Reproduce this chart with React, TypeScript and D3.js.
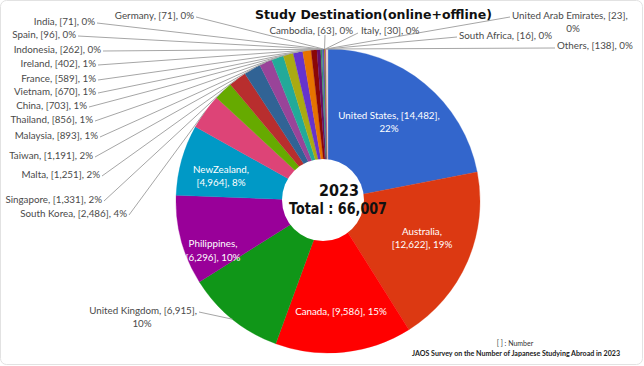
import React from 'react';
import * as d3 from 'd3';

// Data
const countries = [
  'United States', 'Australia', 'Canada', 'United Kingdom', 'Philippines', 'NewZealand',
  'South Korea', 'Singapore', 'Malta', 'Taiwan', 'Malaysia', 'Thailand', 'China', 'Vietnam',
  'France', 'Ireland', 'Indonesia', 'Spain', 'India', 'Germany', 'Cambodia', 'Italy',
  'United Arab Emirates', 'South Africa', 'Others',
];
const students = [
  14482, 12622, 9586, 6915, 6296, 4964,
  2486, 1331, 1251, 1191, 893, 856, 703, 670,
  589, 402, 262, 96, 71, 71, 63, 30,
  23, 16, 138,
];
const sliceColors = [
  '#3366cc', '#dc3912', '#ff0000', '#109618', '#990099', '#0099c6',
  '#dd4477', '#66aa00', '#b82e2e', '#316395', '#994499', '#22aa99', '#aaaa11', '#6633cc',
  '#e67300', '#8b0707', '#651067', '#329262', '#5574a6', '#3b3eac', '#b77322', '#16d620',
  '#b91383', '#f4359e', '#e0d6c8',
];
const year = '2023';
const titleText = 'Study Destination(online+offline)';

const width = 644;
const height = 366;
const cx = 328;
const cy = 201;
const radius = 152;

// label layout: inside labels (centered), outside labels with leader lines
// split 'pct': "name, [n]," / "x%"   split 'name': "name," / "[n], x%"
type Lay = { x: number; y: number[]; anchor: 'start' | 'middle' | 'end'; lx?: number; ly?: number; inside?: boolean; split?: 'pct' | 'name'; x2?: number };
const layout: Record<string, Lay> = {
  'United States': { x: 389, y: [115, 128], anchor: 'middle', inside: true, split: 'pct' },
  'Australia': { x: 422, y: [231, 244], anchor: 'middle', inside: true, split: 'name' },
  'Canada': { x: 341, y: [311], anchor: 'middle', inside: true },
  'Philippines': { x: 213, y: [243, 257], anchor: 'middle', inside: true, split: 'name' },
  'NewZealand': { x: 221, y: [169, 182], anchor: 'middle', inside: true, split: 'name' },
  'United Kingdom': { x: 197, y: [310, 323], anchor: 'end', lx: 199, ly: 312, split: 'pct', x2: 142 },
  'South Korea': { x: 127, y: [213], anchor: 'end', lx: 129, ly: 215 },
  'Singapore': { x: 102, y: [199], anchor: 'end', lx: 104, ly: 201 },
  'Malta': { x: 100, y: [174], anchor: 'end', lx: 102, ly: 176 },
  'Taiwan': { x: 93, y: [155], anchor: 'end', lx: 95, ly: 157 },
  'Malaysia': { x: 98, y: [135], anchor: 'end', lx: 100, ly: 137 },
  'Thailand': { x: 93, y: [119], anchor: 'end', lx: 95, ly: 121 },
  'China': { x: 87, y: [105], anchor: 'end', lx: 89, ly: 107 },
  'Vietnam': { x: 96, y: [91], anchor: 'end', lx: 98, ly: 93 },
  'France': { x: 96, y: [78], anchor: 'end', lx: 98, ly: 80 },
  'Ireland': { x: 96, y: [63], anchor: 'end', lx: 98, ly: 65 },
  'Indonesia': { x: 101, y: [49], anchor: 'end', lx: 103, ly: 51 },
  'Spain': { x: 76, y: [34], anchor: 'end', lx: 78, ly: 36 },
  'India': { x: 95, y: [21], anchor: 'end', lx: 97, ly: 23 },
  'Germany': { x: 194, y: [15], anchor: 'end', lx: 196, ly: 17 },
  'Cambodia': { x: 353, y: [30], anchor: 'end', lx: 325, ly: 35 },
  'Italy': { x: 361, y: [30], anchor: 'start', lx: 358, ly: 33 },
  'United Arab Emirates': { x: 512, y: [15, 28], anchor: 'start', lx: 510, ly: 17, split: 'pct', x2: 573 },
  'South Africa': { x: 459, y: [35], anchor: 'start', lx: 457, ly: 37 },
  'Others': { x: 557, y: [45], anchor: 'start', lx: 555, ly: 48 },
};

const labelFont = 'Lato, "Open Sans", sans-serif';
const labelSize = 9.8;

export default function App() {
  const total = d3.sum(students);
  const rows = countries.map((name, i) => ({ name, value: students[i], color: sliceColors[i] }));
  const pie = d3.pie<typeof rows[number]>().sort(null).value(d => d.value);
  const arcs = pie(rows);
  const arc = d3.arc<d3.PieArcDatum<typeof rows[number]>>().innerRadius(0).outerRadius(radius);
  const fmt = d3.format(',');

  return (
    <svg width={width} height={height} style={{ position: 'absolute', left: 0, top: 0, background: '#fff' }}>
      <rect x={0.5} y={0.5} width={width - 2} height={height - 2} rx={6} fill="#fff" stroke="#e2e2e2" />
      <g transform={`translate(${cx},${cy})`}>
        {arcs.map(a => (
          <path key={a.data.name} d={arc(a) || ''} fill={a.data.color} stroke={a.data.color} strokeWidth={0.3} />
        ))}
      </g>
      {/* leader lines */}
      {arcs.map(a => {
        const l = layout[a.data.name];
        if (!l || l.inside) return null;
        const mid = (a.startAngle + a.endAngle) / 2;
        const px = cx + Math.sin(mid) * radius;
        const py = cy - Math.cos(mid) * radius;
        return <line key={'l' + a.data.name} x1={l.lx} y1={l.ly} x2={px} y2={py} stroke="#a6a6a6" strokeWidth={1} />;
      })}
      {/* labels */}
      {arcs.map(a => {
        const l = layout[a.data.name];
        if (!l) return null;
        const pct = Math.round((a.data.value / total) * 100) + '%';
        const num = `[${fmt(a.data.value)}]`;
        const fill = l.inside ? '#fff' : '#4a4a4a';
        if (l.split) {
          const lines = l.split === 'pct'
            ? [`${a.data.name}, ${num},`, pct]
            : [`${a.data.name},`, `${num}, ${pct}`];
          return (
            <g key={'t' + a.data.name} fontFamily={labelFont} fontSize={labelSize} fill={fill}>
              <text x={l.x} y={l.y[0] + 4} textAnchor={l.anchor}>{lines[0]}</text>
              <text x={l.x2 ?? l.x} y={l.y[1] + 4} textAnchor="middle">{lines[1]}</text>
            </g>
          );
        }
        return (
          <text key={'t' + a.data.name} x={l.x} y={l.y[0] + 4} textAnchor={l.anchor}
            fontFamily={labelFont} fontSize={labelSize} fill={fill}>{`${a.data.name}, ${num}, ${pct}`}</text>
        );
      })}
      {/* center hole */}
      <circle cx={323} cy={200} r={41} fill="#fff" />
      <text x={339} y={196} textAnchor="middle" fontFamily='"DejaVu Sans", sans-serif' fontWeight="bold"
        fontSize={15} fill="#111" textLength={40} lengthAdjust="spacingAndGlyphs">{year}</text>
      <text x={338} y={214} textAnchor="middle" fontFamily='"DejaVu Sans", sans-serif' fontWeight="bold"
        fontSize={15} fill="#111" textLength={98} lengthAdjust="spacingAndGlyphs">{`Total : ${fmt(total)}`}</text>
      {/* title */}
      <text x={255} y={19} fontFamily='"DejaVu Sans", sans-serif' fontWeight="bold" fontSize={13}
        fill="#111" textLength={237} lengthAdjust="spacingAndGlyphs">{titleText}</text>
      {/* footnote */}
      <text x={515} y={346} textAnchor="middle" fontFamily={labelFont} fontSize={7} fill="#333">[ ] : Number</text>
      <text x={412} y={356} fontFamily={labelFont} fontSize={7} fontWeight="bold" fill="#222"
        textLength={208} lengthAdjust="spacingAndGlyphs">JAOS Survey on the Number of Japanese Studying Abroad in 2023</text>
    </svg>
  );
}
